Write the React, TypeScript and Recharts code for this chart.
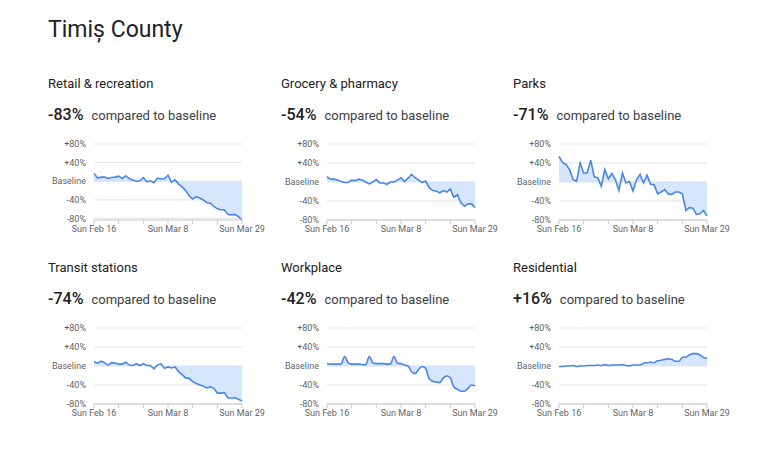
import React from "react";
import { Area, CartesianGrid, ComposedChart, XAxis, YAxis } from "recharts";

// Sun Feb 16 .. Sun Mar 29 (43 days)
const dayLabels: Record<number, string> = { 0: "Sun Feb 16", 21: "Sun Mar 8", 42: "Sun Mar 29" };
const weekTicks = [0, 7, 14, 21, 28, 35, 42];
const yTicks = [-80, -40, 0, 40, 80];

const retail = [17, 7, 9, 9, 6, 8, 9, 11, 6, 12, 6, 3, 0, 1, 8, -1, 1, -3, 7, 5, 6, 13, -2, 3, -6, -12, -20, -31, -38, -33, -36, -40, -46, -47, -54, -59, -61, -61, -71, -72, -71, -76, -83];
const grocery = [11, 6, 6, 4, 1, -1, -1, 4, 3, 6, 4, 0, -4, 0, 5, -2, -2, -5, 0, 0, 4, 9, 1, 8, 16, 9, 4, -1, 2, -12, -18, -19, -23, -18, -21, -15, -32, -27, -44, -51, -46, -46, -54];
const parks = [54, 41, 37, 26, 5, 2, 40, 19, 19, 46, 11, 9, -9, 26, 7, 18, 5, -18, 19, -2, 1, -19, 5, 16, -2, 14, -5, -6, -25, -21, -16, -25, -26, -21, -21, -25, -60, -54, -55, -68, -67, -60, -71];
const transit = [9, 6, 10, 7, 2, 7, 6, 4, 4, 8, 2, 1, 5, 1, 5, 1, 1, -6, 2, 5, -5, -2, -4, -2, -12, -18, -25, -26, -33, -37, -40, -42, -46, -44, -47, -57, -57, -56, -67, -68, -67, -70, -74];
const workplace = [6, 4, 4, 4, 4, 20, 7, 4, 4, 4, 3, 3, 20, 7, 5, 5, 5, 4, 4, 20, 6, 5, 2, 0, -12, -16, -7, -1, -5, -27, -32, -34, -35, -25, -21, -25, -44, -49, -53, -53, -47, -40, -42];
const residential = [-1, -1, 0, 0, 1, -1, 0, 0, 1, 1, 1, 2, 1, 3, 1, 2, 2, 2, 3, 1, 0, 2, 2, 2, 6, 7, 8, 7, 11, 12, 14, 15, 14, 10, 10, 18, 19, 23, 26, 26, 23, 18, 16];

const panels = [
  { title: "Retail & recreation", change: "-83%", values: retail, curve: "linear", left: 48, top: 70 },
  { title: "Grocery & pharmacy", change: "-54%", values: grocery, curve: "linear", left: 281, top: 70 },
  { title: "Parks", change: "-71%", values: parks, curve: "linear", left: 513, top: 70 },
  { title: "Transit stations", change: "-74%", values: transit, curve: "linear", left: 48, top: 254 },
  { title: "Workplace", change: "-42%", values: workplace, curve: "monotone", left: 281, top: 254 },
  { title: "Residential", change: "+16%", values: residential, curve: "monotone", left: 513, top: 254 },
] as const;

const fmtY = (v: number) => (v === 0 ? "Baseline" : v > 0 ? `+${v}%` : `${v}%`);

function Panel({ p }: { p: (typeof panels)[number] }) {
  const data = p.values.map((v, i) => ({ day: i, v }));
  return (
    <div style={{ position: "absolute", left: p.left, top: p.top, width: 240 }}>
      <div style={{ fontSize: 13, color: "#202124", height: 26, lineHeight: "26px", marginTop: 1 }}>{p.title}</div>
      <div style={{ marginTop: 5, height: 26, lineHeight: "26px", whiteSpace: "nowrap" }}>
        <span style={{ fontSize: 16, fontWeight: 500, color: "#202124" }}>{p.change}</span>
        <span style={{ fontSize: 13, color: "#3c4043", marginLeft: 8 }}>compared to baseline</span>
      </div>
      <div style={{ position: "absolute", left: -4, top: 68 }}>
        <ComposedChart width={232} height={104} data={data} margin={{ top: 6, right: 34, bottom: 0, left: 0 }}>
          <CartesianGrid stroke="#e3e3e3" vertical={false} horizontalValues={yTicks} />
          <XAxis
            dataKey="day"
            type="number"
            domain={[0, 42]}
            ticks={weekTicks}
            interval={0}
            tickFormatter={(d: number) => dayLabels[d] ?? ""}
            tick={{ fontSize: 9, fill: "#5f6368" }}
            tickLine={{ stroke: "#c8c8c8" }}
            tickSize={4}
            axisLine={{ stroke: "#c8c8c8" }}
            height={22}
          />
          <YAxis
            type="number"
            domain={[-80, 80]}
            ticks={yTicks}
            interval={0}
            tickFormatter={fmtY}
            tick={{ fontSize: 9, fill: "#5f6368" }}
            tickLine={false}
            axisLine={false}
            width={50}
          />
          <Area
            type={p.curve}
            dataKey="v"
            baseValue={0}
            stroke="#4a86e8"
            strokeWidth={1.6}
            fill="#d2e3fc"
            fillOpacity={0.9}
            dot={false}
            activeDot={false}
            isAnimationActive={false}
          />
        </ComposedChart>
      </div>
    </div>
  );
}

export default function App() {
  return (
    <div
      style={{
        position: "absolute",
        left: 0,
        top: 0,
        width: 779,
        height: 467,
        background: "#fff",
        fontFamily: "Roboto, 'Noto Sans', sans-serif",
      }}
    >
      <div style={{ position: "absolute", left: 48, top: 16, fontSize: 23, color: "#202124" }}>Timiș County</div>
      {panels.map((p) => (
        <Panel key={p.title} p={p} />
      ))}
    </div>
  );
}
